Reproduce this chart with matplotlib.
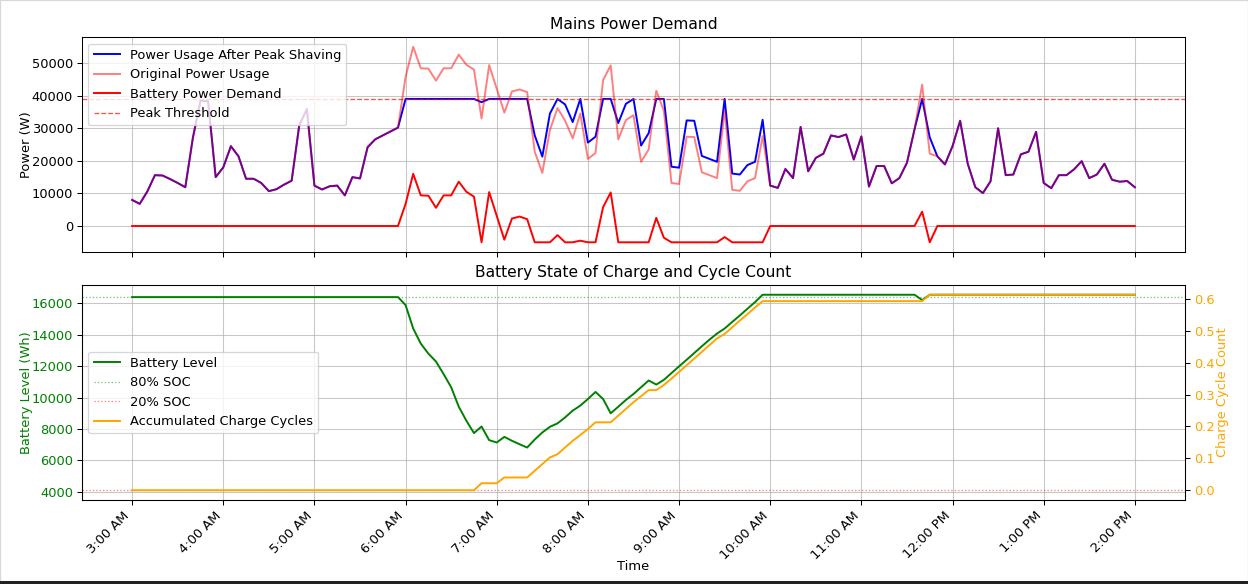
import matplotlib
matplotlib.use('Agg')
import matplotlib.pyplot as plt
import matplotlib.dates as mdates
from matplotlib.patches import Rectangle
import pandas as pd

# 5 minute samples, 3:00 AM to 2:00 PM
times = pd.date_range('2024-01-01 03:00', '2024-01-01 14:00', freq='5min')

peak_threshold = 39000
soc_80 = 16400
soc_20 = 4100

original_usage = [
    8000, 6800, 10600, 15600, 15500, 14400, 13200, 11900, 27100, 38400, 38300, 15000,
    18000, 24500, 21400, 14500, 14500, 13200, 10700, 11300, 12700, 13900, 30900, 35900,
    12400, 11200, 12200, 12400, 9400, 15000, 14600, 24200, 26600, 27800, 29000, 30200,
    45800, 55000, 48400, 48300, 44600, 48400, 48400, 52600, 49500, 48000, 33000, 49400,
    42100, 34800, 41300, 41900, 41100, 22800, 16300, 29500, 36200, 32300, 26900, 34500,
    20600, 22400, 44800, 49300, 26600, 32500, 34000, 19700, 23500, 41500, 35400, 13200,
    12900, 27400, 27300, 16500, 15600, 14700, 35600, 11100, 10800, 13700, 14700, 27600,
    12400, 11700, 17500, 14700, 30400, 16800, 20900, 22200, 27800, 27300, 28100, 20400,
    27500, 12100, 18400, 18400, 13100, 14700, 19400, 29700, 43400, 22200, 21400, 18900,
    24500, 32300, 19100, 11900, 10100, 13700, 30000, 15600, 15800, 22000, 22800, 28900,
    13200, 11600, 15600, 15600, 17400, 19900, 14700, 15800, 19100, 14200, 13600, 13800, 11900,
]

shaved_usage = [
    8000, 6800, 10600, 15600, 15500, 14400, 13200, 11900, 27100, 38400, 38300, 15000,
    18000, 24500, 21400, 14500, 14500, 13200, 10700, 11300, 12700, 13900, 30900, 35900,
    12400, 11200, 12200, 12400, 9400, 15000, 14600, 24200, 26600, 27800, 29000, 30200,
    39000, 39000, 39000, 39000, 39000, 39000, 39000, 39000, 39000, 39000, 38000, 39000,
    39000, 39000, 39000, 39000, 39000, 27800, 21300, 34500, 39000, 37300, 31900, 39000,
    25600, 27400, 39000, 39000, 31600, 37500, 39000, 24700, 28500, 39000, 39000, 18200,
    17900, 32400, 32300, 21500, 20600, 19700, 39000, 16100, 15800, 18700, 19700, 32600,
    12400, 11700, 17500, 14700, 30400, 16800, 20900, 22200, 27800, 27300, 28100, 20400,
    27500, 12100, 18400, 18400, 13100, 14700, 19400, 29700, 39000, 27200, 21400, 18900,
    24500, 32300, 19100, 11900, 10100, 13700, 30000, 15600, 15800, 22000, 22800, 28900,
    13200, 11600, 15600, 15600, 17400, 19900, 14700, 15800, 19100, 14200, 13600, 13800, 11900,
]

battery_demand = [
    0, 0, 0, 0, 0, 0, 0, 0, 0, 0, 0, 0,
    0, 0, 0, 0, 0, 0, 0, 0, 0, 0, 0, 0,
    0, 0, 0, 0, 0, 0, 0, 0, 0, 0, 0, 0,
    6800, 16000, 9400, 9300, 5600, 9400, 9400, 13600, 10500, 9000, -5000, 10400,
    3100, -4200, 2300, 2900, 2100, -5000, -5000, -5000, -2800, -5000, -5000, -4500,
    -5000, -5000, 5800, 10300, -5000, -5000, -5000, -5000, -5000, 2500, -3600, -5000,
    -5000, -5000, -5000, -5000, -5000, -5000, -3400, -5000, -5000, -5000, -5000, -5000,
    0, 0, 0, 0, 0, 0, 0, 0, 0, 0, 0, 0,
    0, 0, 0, 0, 0, 0, 0, 0, 4400, -5000, 0, 0,
    0, 0, 0, 0, 0, 0, 0, 0, 0, 0, 0, 0,
    0, 0, 0, 0, 0, 0, 0, 0, 0, 0, 0, 0, 0,
]

battery_level = [
    16400, 16400, 16400, 16400, 16400, 16400, 16400, 16400, 16400, 16400, 16400, 16400,
    16400, 16400, 16400, 16400, 16400, 16400, 16400, 16400, 16400, 16400, 16400, 16400,
    16400, 16400, 16400, 16400, 16400, 16400, 16400, 16400, 16400, 16400, 16400, 16400,
    15890, 14400, 13440, 12800, 12300, 11500, 10660, 9420, 8530, 7740, 8160, 7290,
    7140, 7500, 7250, 7030, 6820, 7330, 7780, 8140, 8360, 8740, 9170, 9490,
    9910, 10360, 9910, 9000, 9420, 9850, 10230, 10660, 11090, 10830, 11130, 11560,
    11990, 12410, 12840, 13270, 13690, 14080, 14400, 14820, 15230, 15660, 16080, 16550,
    16550, 16550, 16550, 16550, 16550, 16550, 16550, 16550, 16550, 16550, 16550, 16550,
    16550, 16550, 16550, 16550, 16550, 16550, 16550, 16550, 16210, 16550, 16550, 16550,
    16550, 16550, 16550, 16550, 16550, 16550, 16550, 16550, 16550, 16550, 16550, 16550,
    16550, 16550, 16550, 16550, 16550, 16550, 16550, 16550, 16550, 16550, 16550, 16550, 16550,
]

charge_cycles = [
    0, 0, 0, 0, 0, 0, 0, 0, 0, 0, 0, 0,
    0, 0, 0, 0, 0, 0, 0, 0, 0, 0, 0, 0,
    0, 0, 0, 0, 0, 0, 0, 0, 0, 0, 0, 0,
    0, 0, 0, 0, 0, 0, 0, 0, 0, 0, 0.022, 0.022,
    0.022, 0.040, 0.040, 0.040, 0.040, 0.061, 0.082, 0.103, 0.113, 0.134, 0.155, 0.173,
    0.192, 0.213, 0.213, 0.213, 0.234, 0.255, 0.276, 0.295, 0.314, 0.314, 0.330, 0.350,
    0.371, 0.392, 0.413, 0.434, 0.455, 0.476, 0.490, 0.511, 0.532, 0.552, 0.573, 0.593,
    0.593, 0.593, 0.593, 0.593, 0.593, 0.593, 0.593, 0.593, 0.593, 0.593, 0.593, 0.593,
    0.593, 0.593, 0.593, 0.593, 0.593, 0.593, 0.593, 0.593, 0.593, 0.613, 0.613, 0.613,
    0.613, 0.613, 0.613, 0.613, 0.613, 0.613, 0.613, 0.613, 0.613, 0.613, 0.613, 0.613,
    0.613, 0.613, 0.613, 0.613, 0.613, 0.613, 0.613, 0.613, 0.613, 0.613, 0.613, 0.613, 0.613,
]

dpi = 93.3
fig, (ax1, ax3) = plt.subplots(2, 1, figsize=(1248 / dpi, 584 / dpi), dpi=dpi, sharex=True)
fig.subplots_adjust(left=0.0657, right=0.9495, top=0.9366, bottom=0.1438, hspace=0.153)

# top: mains power
ax1.plot(times, shaved_usage, color='blue', label='Power Usage After Peak Shaving')
ax1.plot(times, original_usage, color='red', alpha=0.5, label='Original Power Usage')
ax1.plot(times, battery_demand, color='red', label='Battery Power Demand')
ax1.axhline(peak_threshold, color='red', linestyle='--', linewidth=1, alpha=0.7, label='Peak Threshold')
ax1.set_title('Mains Power Demand')
ax1.set_ylabel('Power (W)', labelpad=-1)
ax1.legend(loc='upper left')
ax1.grid(True, alpha=0.7)

# bottom: battery level + cycles
ax3.plot(times, battery_level, color='green', label='Battery Level')
ax3.axhline(soc_80, color='green', linestyle=':', linewidth=1, alpha=0.5, label='80% SOC')
ax3.axhline(soc_20, color='red', linestyle=':', linewidth=1, alpha=0.5, label='20% SOC')
ax3.set_ylabel('Battery Level (Wh)', color='green', labelpad=-1)
ax3.tick_params(axis='y', labelcolor='green')
ax3.set_xlabel('Time', labelpad=-1.5)
ax3.set_title('Battery State of Charge and Cycle Count')
ax3.grid(True, alpha=0.7)

ax4 = ax3.twinx()
ax4.plot(times, charge_cycles, color='orange', label='Accumulated Charge Cycles')
ax4.set_ylabel('Charge Cycle Count', color='orange', labelpad=1)
ax4.tick_params(axis='y', labelcolor='orange')

h1, l1 = ax3.get_legend_handles_labels()
h2, l2 = ax4.get_legend_handles_labels()
ax4.legend(h1 + h2, l1 + l2, loc='center left')

ax3.xaxis.set_major_locator(mdates.HourLocator())
ax3.xaxis.set_major_formatter(mdates.DateFormatter('%-I:%M %p'))
plt.setp(ax3.get_xticklabels(), rotation=45, ha='right')

# screenshot frame: thin light border, dark strip along the bottom
fig.patches.append(Rectangle((0, 0), 1, 1, transform=fig.transFigure, fill=False,
                             edgecolor='#d8d8d8', linewidth=1))
fig.patches.append(Rectangle((0, 0), 1, 3 / 584, transform=fig.transFigure,
                             facecolor='#222222', edgecolor='none'))

fig.savefig('out.png', dpi=dpi)
